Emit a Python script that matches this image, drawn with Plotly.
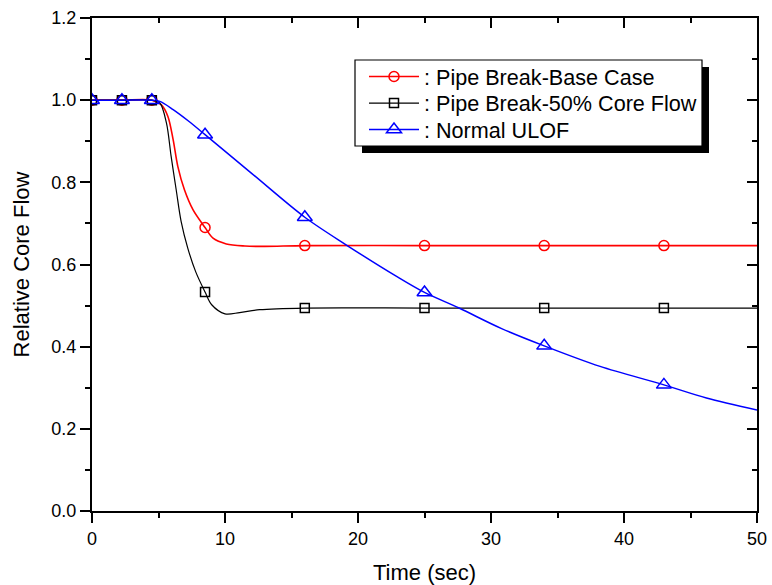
import plotly.graph_objects as go

# ---- data ----
t_marker = [0, 2.25, 4.5, 8.5, 16, 25, 34, 43]
base_marker = [1.0, 1.0, 1.0, 0.690, 0.646, 0.646, 0.646, 0.646]
half_marker = [1.0, 1.0, 1.0, 0.533, 0.494, 0.494, 0.494, 0.494]
ulof_marker = [1.0, 1.0, 1.0, 0.916, 0.715, 0.532, 0.402, 0.307]

t_base = [0, 2.25, 4.5, 5.2, 5.7, 6.1, 6.45, 6.95, 7.6, 8.5, 9.1, 10.1, 11.5, 13, 16, 25, 34, 43, 50]
v_base = [1.0, 1.0, 1.0, 0.989, 0.961, 0.904, 0.839, 0.782, 0.733, 0.690, 0.664, 0.650, 0.645, 0.644,
          0.646, 0.646, 0.646, 0.646, 0.646]

t_half = [0, 2.25, 4.5, 5.1, 5.6, 5.95, 6.33, 6.7, 7.2, 7.8, 8.5, 9.0, 10.0, 11.1, 12.6, 16, 25, 34, 43, 50]
v_half = [1.0, 1.0, 1.0, 0.993, 0.944, 0.863, 0.782, 0.705, 0.640, 0.582, 0.533, 0.502, 0.480, 0.483,
          0.490, 0.494, 0.494, 0.494, 0.494, 0.494]

t_ulof = [0, 2.25, 4.5, 5.1, 6.1, 7.3, 8.5, 12, 16, 19.1, 22.9, 25, 27.6, 30.8, 34, 38.2, 43, 46.2, 50]
v_ulof = [1.0, 1.0, 1.0, 0.997, 0.977, 0.948, 0.916, 0.822, 0.715, 0.648, 0.571, 0.532, 0.494, 0.444,
          0.402, 0.352, 0.307, 0.275, 0.246]

names = [": Pipe Break-Base Case", ": Pipe Break-50% Core Flow", ": Normal ULOF"]
colors = ["#ff0000", "#000000", "#0000ff"]
symbols = ["circle-open", "square-open", "triangle-up-open"]
msizes = [10, 9, 13]
lwidths = [1.6, 1.2, 1.5]

FONT = "Liberation Sans, Arial, sans-serif"

fig = go.Figure()
curves = [(t_base, v_base, base_marker), (t_half, v_half, half_marker), (t_ulof, v_ulof, ulof_marker)]
for i, (tc, vc, vm) in enumerate(curves):
    fig.add_trace(go.Scatter(x=tc, y=vc, mode="lines", showlegend=False,
                             line=dict(color=colors[i], width=lwidths[i], shape="spline", smoothing=0.9),
                             hoverinfo="skip"))
for i, (tc, vc, vm) in enumerate(curves):
    fig.add_trace(go.Scatter(x=t_marker, y=vm, mode="markers", showlegend=False,
                             marker=dict(symbol=symbols[i], size=msizes[i], color=colors[i],
                                         line=dict(color=colors[i], width=1.5))))
legend_ids = ["legend", "legend2", "legend3"]
for i in range(3):
    fig.add_trace(go.Scatter(x=[None], y=[None], mode="lines+markers", name=names[i],
                             legend=legend_ids[i],
                             line=dict(color=colors[i], width=lwidths[i]),
                             marker=dict(symbol=symbols[i], size=msizes[i], color=colors[i],
                                         line=dict(color=colors[i], width=1.5))))
# helper trace for the mirrored (top/right) axes
fig.add_trace(go.Scatter(x=[None], y=[None], xaxis="x2", yaxis="y2", showlegend=False))

L, R, T, B = 92, 15, 18, 74
W, H = 772, 585
pw, ph = W - L - R, H - T - B


def px(x):
    return (x - L) / pw


def py(y):
    return (H - B - y) / ph


axis_common = dict(showgrid=False, zeroline=False, showline=True, linecolor="black", linewidth=2,
                   tickcolor="black", tickwidth=2, ticklen=10, automargin=False,
                   tickfont=dict(family=FONT, size=18, color="black"))


def leg(ycenter):
    return dict(x=px(364), y=py(ycenter), xanchor="left", yanchor="middle",
                bgcolor="rgba(0,0,0,0)", borderwidth=0, itemwidth=50,
                font=dict(family=FONT, size=21.6, color="black"))


fig.update_layout(
    width=W, height=H,
    margin=dict(l=L, r=R, t=T, b=B, autoexpand=False),
    plot_bgcolor="white", paper_bgcolor="white",
    font=dict(family=FONT, color="black"),
    xaxis=dict(range=[0, 50], dtick=10, tick0=0, ticks="outside",
               minor=dict(dtick=5, ticks="outside", ticklen=5, tickwidth=2, tickcolor="black"),
               title=dict(text="Time (sec)", font=dict(family=FONT, size=22, color="black"), standoff=20),
               **axis_common),
    yaxis=dict(range=[0, 1.2], dtick=0.2, tick0=0, tickformat=".1f", ticks="outside",
               minor=dict(dtick=0.1, ticks="outside", ticklen=5, tickwidth=2, tickcolor="black"),
               title=dict(text="Relative Core Flow", font=dict(family=FONT, size=22, color="black"), standoff=16),
               **axis_common),
    xaxis2=dict(range=[0, 50], dtick=10, tick0=0, overlaying="x", side="top", anchor="y",
                ticks="inside", showticklabels=False,
                minor=dict(dtick=5, ticks="inside", ticklen=5, tickwidth=2, tickcolor="black"),
                **axis_common),
    yaxis2=dict(range=[0, 1.2], dtick=0.2, tick0=0, overlaying="y", side="right", anchor="x",
                ticks="inside", showticklabels=False,
                minor=dict(dtick=0.1, ticks="inside", ticklen=5, tickwidth=2, tickcolor="black"),
                **axis_common),
    legend=leg(77),
    legend2=leg(103.5),
    legend3=leg(130),
    shapes=[
        dict(type="rect", xref="paper", yref="paper", x0=px(362), x1=px(709), y0=py(67), y1=py(153),
             fillcolor="black", line=dict(width=0), layer="above"),
        dict(type="rect", xref="paper", yref="paper", x0=px(355), x1=px(702), y0=py(60), y1=py(146),
             fillcolor="white", line=dict(color="black", width=1.2), layer="above"),
    ],
)

fig.write_html("out.html")
